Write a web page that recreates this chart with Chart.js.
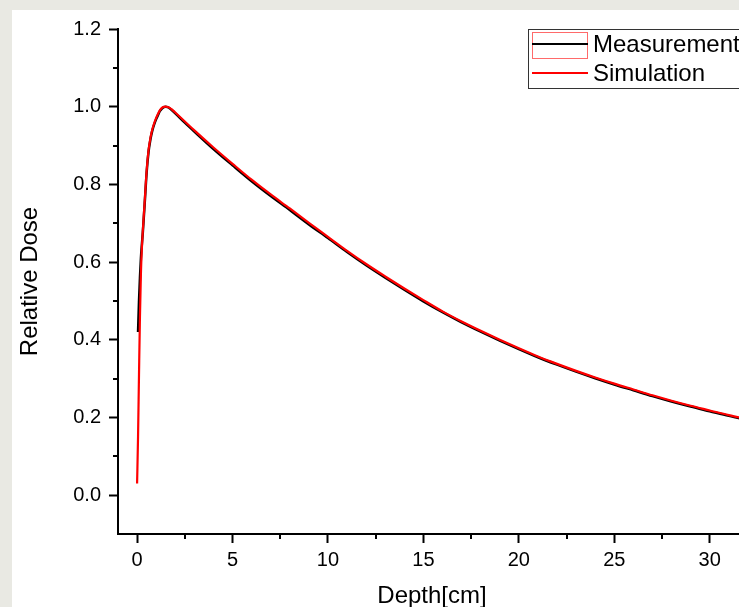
<!DOCTYPE html>
<html>
<head>
<meta charset="utf-8">
<script src="https://cdn.jsdelivr.net/npm/chart.js@4"></script>
<style>
  html, body { margin: 0; padding: 0; width: 739px; height: 607px; overflow: hidden; background: #e9e9e3; }
  #paper { position: absolute; left: 12px; top: 10px; width: 760px; height: 620px; background: #fff; }
  #wrap { position: absolute; left: 0; top: 0; width: 746px; height: 607px; }
</style>
</head>
<body>
<div id="paper"></div>
<div id="wrap"><canvas id="doseChart" width="746" height="607"></canvas></div>
<script>
// depth [cm] and relative dose
var simDepth = [0, 0.05, 0.1, 0.15, 0.2, 0.25, 0.3, 0.4, 0.5, 0.6, 0.7, 0.8, 0.9, 1.0, 1.1, 1.2, 1.3, 1.4, 1.5, 1.6, 1.7, 1.8, 2.0, 2.5,
                3, 4, 5, 6, 7, 8, 9, 10, 11, 12, 13, 14, 15, 16, 17, 18, 19, 20, 21, 22, 23, 24, 25, 26, 27, 28, 29, 30, 31, 32];
var simDose  = [0.03, 0.15, 0.31, 0.46, 0.57, 0.635, 0.68, 0.757, 0.835, 0.888, 0.92, 0.942, 0.958, 0.971, 0.982, 0.991, 0.997, 0.9995, 1.0, 0.9993, 0.997, 0.994, 0.985, 0.962,
                0.939, 0.895, 0.853, 0.812, 0.774, 0.738, 0.701, 0.665, 0.629, 0.595, 0.563, 0.532, 0.502, 0.473, 0.447, 0.423, 0.400,
                0.378, 0.357, 0.338, 0.320, 0.303, 0.287, 0.272, 0.257, 0.243, 0.230, 0.218, 0.206, 0.195];

var measDepth = [0.05, 0.1, 0.15, 0.2, 0.25, 0.3, 0.4, 0.5, 0.6, 0.7, 0.8, 0.9, 1.0, 1.1, 1.2, 1.3, 1.4, 1.5, 1.6, 1.7, 1.8, 2.0, 2.5,
                 3, 4, 5, 6, 7, 8, 9, 10, 11, 12, 13, 14, 15, 16, 17, 18, 19, 20, 21, 22, 23, 24, 25, 26, 27, 28, 29, 30, 31, 32];
var measDose  = [0.42, 0.50, 0.56, 0.61, 0.645, 0.676, 0.752, 0.83, 0.884, 0.916, 0.939, 0.955, 0.968, 0.979, 0.989, 0.995, 0.999, 1.0, 0.999, 0.996, 0.992, 0.983, 0.959,
                 0.936, 0.891, 0.849, 0.808, 0.770, 0.734, 0.697, 0.662, 0.626, 0.592, 0.56, 0.529, 0.499, 0.471, 0.445, 0.421, 0.398,
                 0.376, 0.355, 0.336, 0.318, 0.301, 0.285, 0.27, 0.255, 0.241, 0.228, 0.216, 0.204, 0.193];

var xTicks = [0, 5, 10, 15, 20, 25, 30];
var xMinor = [2.5, 7.5, 12.5, 17.5, 22.5, 27.5];
var yTicks = [0.0, 0.2, 0.4, 0.6, 0.8, 1.0, 1.2];
var yMinor = [0.1, 0.3, 0.5, 0.7, 0.9, 1.1];

var seriesNames = ['Measurement', 'Simulation'];

function toPoints(xs, ys){
  var pts = [];
  for(let i=0; i<xs.length; i++){
    pts.push({x: xs[i], y: ys[i]});
  }
  return pts;
}

var minorTicks = {
  id: 'minorTicks',
  afterDraw: function(chart){
    var ctx = chart.ctx;
    var xs = chart.scales.x, ys = chart.scales.y;
    var area = chart.chartArea;
    ctx.save();
    ctx.strokeStyle = '#000';
    ctx.lineWidth = 2;
    ctx.beginPath();
    xMinor.forEach(function(v){
      var px = Math.round(xs.getPixelForValue(v));
      ctx.moveTo(px, area.bottom);
      ctx.lineTo(px, area.bottom + 5);
    });
    yMinor.forEach(function(v){
      var py = Math.round(ys.getPixelForValue(v));
      ctx.moveTo(area.left, py);
      ctx.lineTo(area.left - 5, py);
    });
    ctx.stroke();
    ctx.restore();
  }
};

var boxLegend = {
  id: 'boxLegend',
  afterDraw: function(chart){
    var ctx = chart.ctx;
    var ds = chart.data.datasets;
    ctx.save();
    ctx.fillStyle = '#fff';
    ctx.fillRect(528, 29, 230, 59);
    ctx.strokeStyle = '#333';
    ctx.lineWidth = 1;
    ctx.strokeRect(528.5, 29.5, 230, 59);
    // odd red frame around the first sample, as in the original
    ctx.strokeStyle = '#ff6a6a';
    ctx.strokeRect(532.5, 32.5, 55, 26);
    var rows = [44, 73];
    ctx.font = '24px "Liberation Sans", Arial, sans-serif';
    ctx.textBaseline = 'middle';
    for(let i=0; i<ds.length; i++){
      ctx.strokeStyle = ds[i].borderColor;
      ctx.lineWidth = 2;
      ctx.beginPath();
      ctx.moveTo(532, rows[i]);
      ctx.lineTo(588, rows[i]);
      ctx.stroke();
      ctx.fillStyle = '#000';
      ctx.fillText(ds[i].label, 593, rows[i] + 1);
    }
    ctx.restore();
  }
};

var ctx = document.getElementById('doseChart').getContext('2d');

var options = {
  responsive: false,
  animation: false,
  layout: { padding: { top: 29, right: 0, left: 0, bottom: 0 } },
  plugins: { legend: { display: false }, tooltip: { enabled: false } },
  elements: { point: { radius: 0 } },
  scales: {
    x: {
      type: 'linear',
      min: -1,
      max: 31.9,
      afterBuildTicks: function(scale){ scale.ticks = xTicks.map(v => ({value: v})); },
      afterFit: function(scale){ scale.height = 73; },
      grid: { drawOnChartArea: false, drawTicks: true, tickLength: 9, tickWidth: 2, tickColor: '#000' },
      border: { display: true, color: '#000', width: 2 },
      ticks: {
        color: '#000', padding: 5,
        font: { family: '"Liberation Sans", Arial, sans-serif', size: 20 },
        callback: v => String(v)
      },
      title: {
        display: true, text: 'Depth[cm]', color: '#000',
        font: { family: '"Liberation Sans", Arial, sans-serif', size: 24, lineHeight: 0.9 },
        padding: { top: 0, bottom: 0 }
      }
    },
    y: {
      min: -0.1,
      max: 1.2,
      afterBuildTicks: function(scale){ scale.ticks = yTicks.map(v => ({value: v})); },
      afterFit: function(scale){ scale.width = 118; },
      grid: { drawOnChartArea: false, drawTicks: true, tickLength: 9, tickWidth: 2, tickColor: '#000' },
      border: { display: true, color: '#000', width: 2 },
      ticks: {
        color: '#000', padding: 8,
        font: { family: '"Liberation Sans", Arial, sans-serif', size: 20 },
        callback: v => v.toFixed(1)
      },
      title: {
        display: true, text: 'Relative Dose', color: '#000',
        font: { family: '"Liberation Sans", Arial, sans-serif', size: 24, lineHeight: 1.2 },
        padding: { top: 16, bottom: 0 }
      }
    }
  }
};

var doseChart = new Chart(ctx, {
  type: 'line',
  options: options,
  plugins: [minorTicks, boxLegend],
  data: {
    datasets: [{
      label: seriesNames[0],
      data: toPoints(measDepth, measDose),
      borderColor: '#000000',
      borderWidth: 2.5,
      cubicInterpolationMode: 'monotone',
      order: 2,
      fill: false
    }, {
      label: seriesNames[1],
      data: toPoints(simDepth, simDose),
      borderColor: '#ff0000',
      borderWidth: 2.2,
      cubicInterpolationMode: 'monotone',
      order: 1,
      fill: false
    }]
  }
});
</script>
</body>
</html>
